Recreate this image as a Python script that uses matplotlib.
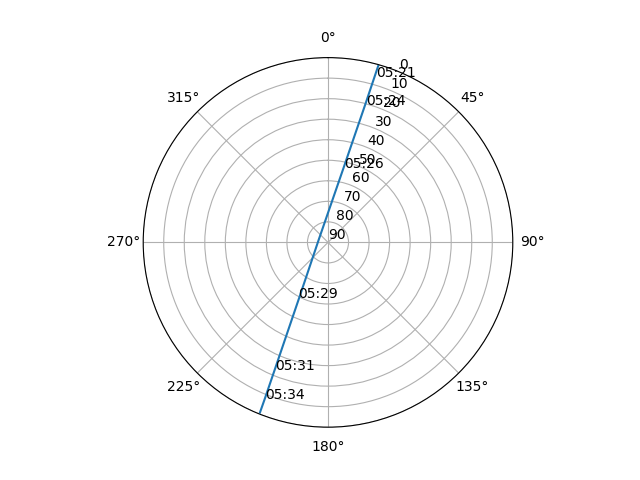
import numpy as np
import matplotlib
matplotlib.use("Agg")
import matplotlib.pyplot as plt

# Satellite pass track (azimuth in degrees, elevation in degrees)
track_az = [15.9, 15.7, 15.1, 11.8, 288.8, 207.5, 202.7, 202.0, 201.8]
track_el = [0.0, 6.2, 20.8, 52.9, 85.3, 59.7, 22.7, 7.7, 0.8]

# Time labels along the track
label_times = ["05:21", "05:24", "05:26", "05:29", "05:31", "05:34"]
label_az = [16.3, 15.6, 11.9, 208.7, 202.4, 201.75]
label_el = [5.9, 20.5, 52.8, 59.3, 22.8, 7.7]

r_ticks = [0, 10, 20, 30, 40, 50, 60, 70, 80, 90]

fig, ax = plt.subplots(figsize=(6.4, 4.8), dpi=100, subplot_kw={"projection": "polar"})
ax.set_theta_zero_location("N")
ax.set_theta_direction(-1)

ax.plot(np.radians(track_az), track_el)
for t, a, e in zip(label_times, label_az, label_el):
    ax.text(np.radians(a), e, t)

ax.set_ylim(90, 0)
ax.set_yticks(r_ticks)

fig.savefig("out.png")
